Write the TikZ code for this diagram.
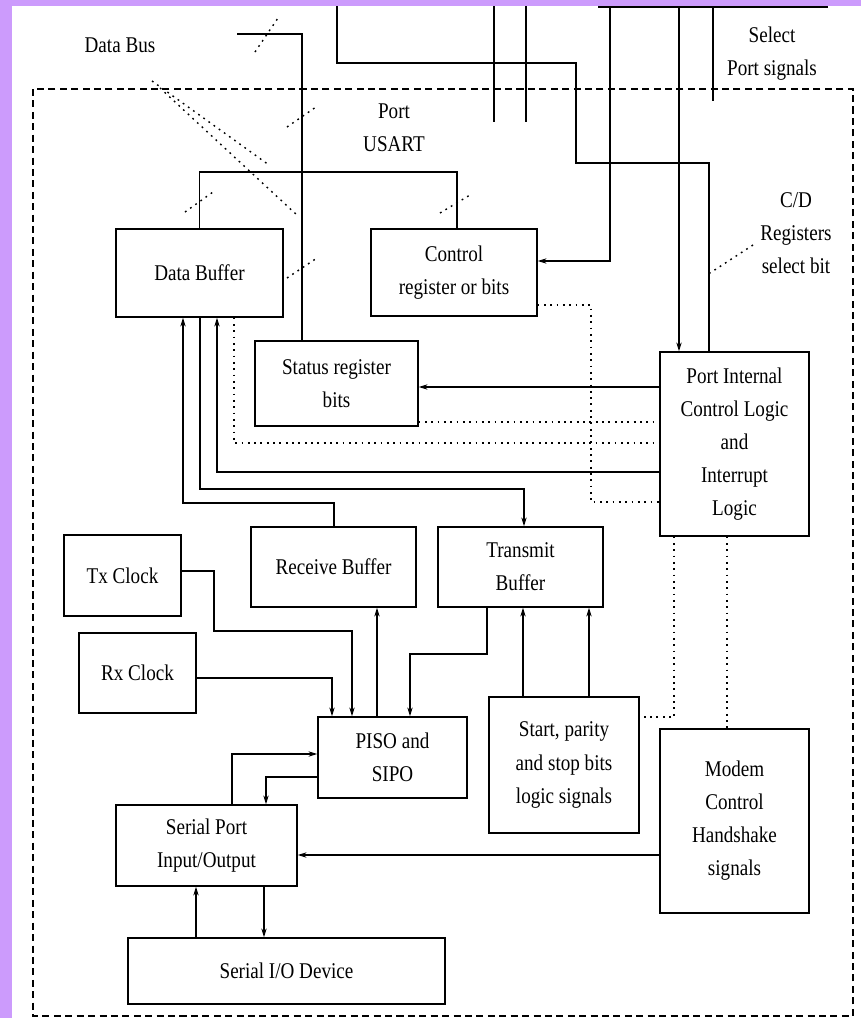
\documentclass[tikz,border=0pt]{standalone}
\usepackage{fontspec}
\setmainfont{Liberation Serif}[FakeStretch=0.85]
\usetikzlibrary{arrows.meta}
\definecolor{framecol}{RGB}{204,155,252}
\begin{document}
\begin{tikzpicture}[x=0.02cm,y=-0.02cm,
  line width=0.8pt,
  >={Stealth[length=5pt,width=3pt]},
  blk/.style={draw,rectangle,inner sep=0pt,align=center,font=\fontsize{12.8}{18.8}\selectfont},
  lbl/.style={inner sep=0pt,align=center,font=\fontsize{12.8}{18.8}\selectfont},
  dot/.style={dash pattern=on 1pt off 2.6pt},
  heavy/.style={line width=1.1pt}]
\useasboundingbox (0,0) rectangle (861,1018);
\fill[framecol] (0,0) rectangle (861,1018);
\fill[white] (12,6) rectangle (861,1018);
\begin{scope}
\clip (12,6) rectangle (861,1018);
\draw[dash pattern=on 4pt off 2.5pt] (33,89) rectangle (853,1016);

\node[blk,minimum width=4.56cm,minimum height=0.68cm] (top) at (713,-10) {};
\node[blk,minimum width=3.34cm,minimum height=1.76cm] (dbuf) at (199.5,273) {Data Buffer};
\node[blk,minimum width=3.32cm,minimum height=1.74cm] (ctrl) at (454,272.5) {Control\\register or bits};
\node[blk,minimum width=3.26cm,minimum height=1.70cm] (stat) at (336.5,383.5) {Status register\\bits};
\node[blk,minimum width=2.98cm,minimum height=3.68cm] (pil) at (734.5,444) {Port Internal\\Control Logic\\and\\Interrupt\\Logic};
\node[blk,minimum width=3.30cm,minimum height=1.60cm] (rbuf) at (333.5,567) {Receive Buffer};
\node[blk,minimum width=3.30cm,minimum height=1.60cm] (tbuf) at (520.5,567) {Transmit\\Buffer};
\node[blk,minimum width=2.34cm,minimum height=1.62cm] (txc) at (122.5,575.5) {Tx Clock};
\node[blk,minimum width=2.34cm,minimum height=1.60cm] (rxc) at (137.5,673) {Rx Clock};
\node[blk,minimum width=2.98cm,minimum height=1.62cm] (piso) at (392.5,757.5) {PISO and\\SIPO};
\node[blk,minimum width=3.00cm,minimum height=2.72cm] (spl) at (564,765) {Start, parity\\and stop bits\\logic signals};
\node[blk,minimum width=2.98cm,minimum height=3.68cm] (modem) at (734.5,821) {Modem\\Control\\Handshake\\signals};
\node[blk,minimum width=3.62cm,minimum height=1.62cm] (sio) at (206.5,845.5) {Serial Port\\Input/Output};
\node[blk,minimum width=6.34cm,minimum height=1.32cm] (sdev) at (286.5,971) {Serial I/O Device};

\node[lbl] (dbuslbl) at (120,45) {Data Bus};
\node[lbl] (usartlbl) at (394,128) {Port\\USART};
\node[lbl] (sellbl) at (772,54) {Select\\Port signals};
\node[lbl] (cdlbl) at (796,233) {C/D\\Registers\\select bit};

\coordinate (dbusend) at (237,34);
\coordinate (chipin) at (337,0);
\coordinate (busa) at (494,0);
\coordinate (busaend) at (494,122);
\coordinate (busb) at (526,0);
\coordinate (busbend) at (526,122);
\coordinate (selend) at (713,101);

\draw (dbusend) -- (302,34) -- (stat.north -| 302,0);
\draw (dbuf.north) |- (457,172) -- (ctrl.north -| 457,0);
\draw (busa) -- (busaend);
\draw (busb) -- (busbend);
\draw (chipin) -- (337,63) -| (576,163) -| (pil.north -| 709,0);
\draw[->,heavy] (top.south -| 610,0) |- (ctrl.east |- 0,261);
\draw[->] (top.south -| 679,0) -- (pil.north -| 679,0);
\draw (top.south -| 713,0) -- (selend);

\draw[dot] (255,52) -- (278,18);
\draw[dot] (287,127) -- (316,107);
\draw[dot] (185,212) -- (213,192);
\draw[dot] (440,213) -- (470,195);
\draw[dot] (287,278) -- (317,258);
\draw[dot] (152,81) -- (269,165);
\draw[dot] (160,88) -- (298,216);
\draw[dot] (753,245) -- (710,273);

\draw[->] (pil.west |- 0,387) -- (stat.east |- 0,387);
\draw[dot] (stat.east |- 0,422) -- (pil.west |- 0,422);
\draw[dot] (dbuf.south -| 234,0) |- (pil.west |- 0,443);
\draw[->] (pil.west |- 0,472) -| (dbuf.south -| 217,0);
\draw[->] (dbuf.south -| 200,0) -- (200,489) -| (tbuf.north -| 524,0);
\draw[->] (rbuf.north -| 334,0) -- (334,503) -| (dbuf.south -| 183,0);
\draw[dot] (ctrl.east |- 0,305) -| (591,502) -- (pil.west |- 0,502);
\draw[dot] (pil.south -| 674,0) |- (spl.east |- 0,717);
\draw[dot] (pil.south -| 727,0) -- (modem.north -| 727,0);

\draw[->] (txc.east |- 0,571) -| (214,631) -| (piso.north -| 352,0);
\draw[->] (rxc.east |- 0,678) -| (piso.north -| 332,0);
\draw[->] (piso.north -| 377,0) -- (rbuf.south -| 377,0);
\draw[->,heavy] (tbuf.south -| 487,0) |- (410,654) -- (piso.north -| 410,0);
\draw[->] (spl.north -| 523,0) -- (tbuf.south -| 523,0);
\draw[->] (spl.north -| 589,0) -- (tbuf.south -| 589,0);
\draw[->] (sio.north -| 232,0) |- (piso.west |- 0,754);
\draw[->] (piso.west |- 0,777) -| (sio.north -| 266,0);
\draw[->] (modem.west |- 0,855) -- (sio.east |- 0,855);
\draw[->] (sdev.north -| 196,0) -- (sio.south -| 196,0);
\draw[->] (sio.south -| 264,0) -- (sdev.north -| 264,0);
\end{scope}
\end{tikzpicture}
\end{document}
